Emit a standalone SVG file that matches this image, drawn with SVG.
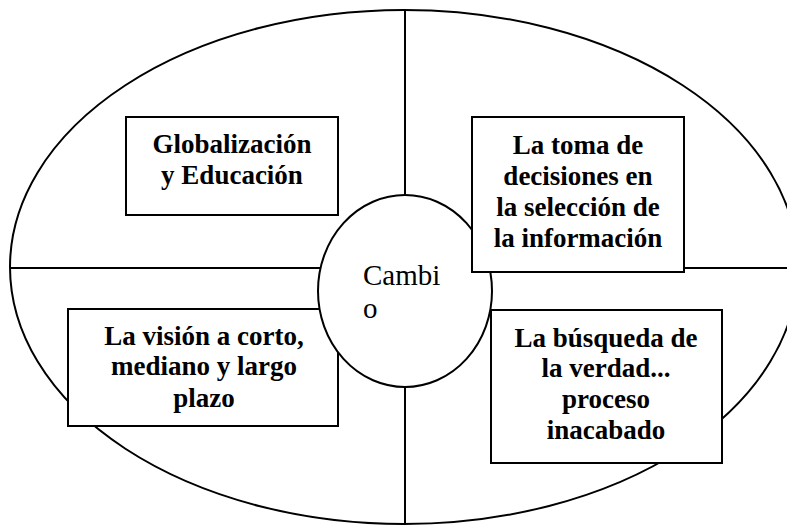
<svg xmlns="http://www.w3.org/2000/svg" width="787" height="525" viewBox="0 0 787 525">
<style>
.shape{fill:#fff;stroke:#000;stroke-width:2}
.line{stroke:#000;stroke-width:2;fill:none}
.lbl{font-family:"Liberation Serif","Times New Roman",serif;font-weight:bold;font-size:27px;text-anchor:middle;fill:#000}
.ctr{font-family:"Liberation Serif","Times New Roman",serif;font-size:29px;fill:#000}
</style>
<rect width="787" height="525" fill="#fff"/>
<g id="outer"><ellipse class="shape" cx="404" cy="267" rx="394" ry="257"/></g>
<g id="connectors">
<line class="line" x1="405" y1="10" x2="405" y2="525"/>
<line class="line" x1="10" y1="268" x2="787" y2="268"/>
</g>
<g id="vision">
<rect class="shape" x="68" y="309" width="270" height="117"/>
<text class="lbl" x="204" y="345">La visión a corto,</text>
<text class="lbl" x="204" y="375">mediano y largo</text>
<text class="lbl" x="204" y="407">plazo</text>
</g>
<g id="cambio">
<ellipse class="shape" cx="405" cy="291" rx="87" ry="96"/>
<text class="ctr" x="363" y="285">Cambi</text>
<text class="ctr" x="363" y="318">o</text>
</g>
<g id="globalizacion">
<rect class="shape" x="126" y="117" width="212" height="98"/>
<text class="lbl" x="232" y="153">Globalización</text>
<text class="lbl" x="232" y="184">y Educación</text>
</g>
<g id="toma">
<rect class="shape" x="472" y="117" width="212" height="155"/>
<text class="lbl" x="578" y="154">La toma de</text>
<text class="lbl" x="578" y="185">decisiones en</text>
<text class="lbl" x="578" y="216">la selección de</text>
<text class="lbl" x="578" y="247">la información</text>
</g>
<g id="busqueda">
<rect class="shape" x="491" y="310" width="231" height="153"/>
<text class="lbl" x="606" y="347">La búsqueda de</text>
<text class="lbl" x="606" y="377">la verdad...</text>
<text class="lbl" x="606" y="408">proceso</text>
<text class="lbl" x="606" y="439">inacabado</text>
</g>
</svg>
